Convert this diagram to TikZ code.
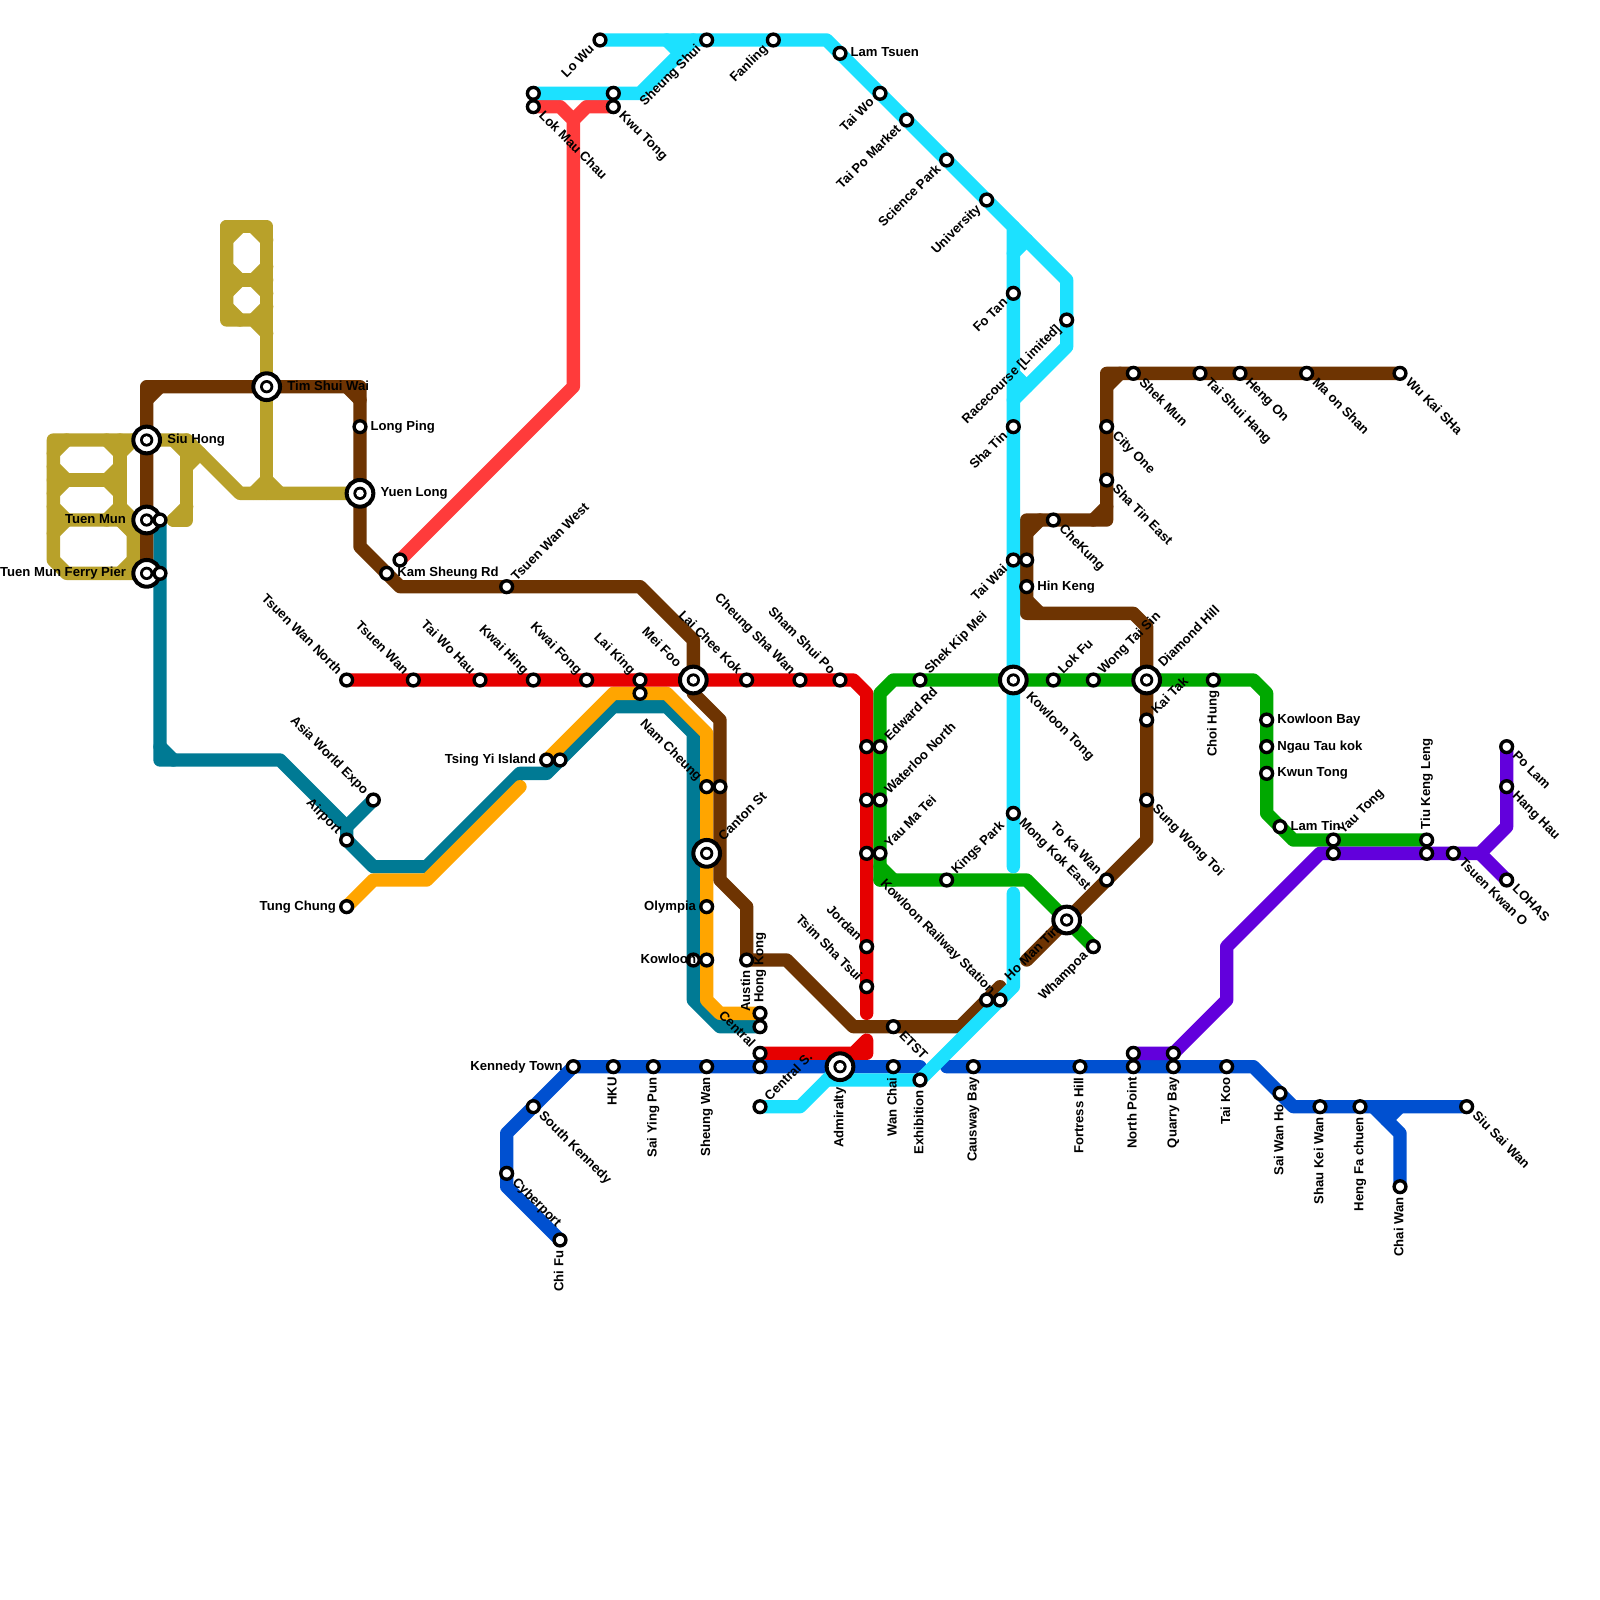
\documentclass[tikz,border=0pt]{standalone}
\usepackage{fontspec}
\setmainfont{Liberation Sans}
\pgfdeclarelayer{lines}
\pgfsetlayers{lines,main}
\definecolor{cbrown}{HTML}{6E3402}
\definecolor{cgold}{HTML}{B8A12A}
\definecolor{cteal}{HTML}{007A94}
\definecolor{corange}{HTML}{FFA500}
\definecolor{cred}{HTML}{E60000}
\definecolor{clred}{HTML}{FF3B3B}
\definecolor{cgreen}{HTML}{00A800}
\definecolor{ccyan}{HTML}{1CE1FF}
\definecolor{cblue}{HTML}{0050D0}
\definecolor{cpurple}{HTML}{6200DC}
\tikzset{
  ln/.style={line width=0.5cm,line cap=round,line join=round},
  stn/.style={circle,draw=black,fill=white,line width=3.6pt,minimum size=12.6pt,inner sep=0pt,outer sep=0pt},
  hubn/.style={circle,draw=black,fill=white,line width=4.3pt,minimum size=28.5pt,inner sep=0pt,outer sep=0pt,
    path picture={\fill[black] (path picture bounding box.center) circle (7.1pt);
                  \fill[white] (path picture bounding box.center) circle (4.1pt);}},
  lbl/.style={inner sep=0pt,outer sep=0pt,text height=0.72em,text depth=0pt,font=\fontsize{14}{15}\selectfont\bfseries},
  lE/.style={anchor=west,xshift=#1*0.5cm},
  lW/.style={anchor=east,xshift=-#1*0.5cm},
  lNE/.style={anchor=west,xshift=#1*0.3536cm,yshift=#1*0.3536cm,rotate=45},
  lSW/.style={anchor=east,xshift=-#1*0.3536cm,yshift=-#1*0.3536cm,rotate=45},
  lSE/.style={anchor=west,xshift=#1*0.3536cm,yshift=-#1*0.3536cm,rotate=-45},
  lNW/.style={anchor=east,xshift=-#1*0.3536cm,yshift=#1*0.3536cm,rotate=-45},
  lN/.style={anchor=west,yshift=#1*0.5cm,rotate=90},
  lS/.style={anchor=east,yshift=-#1*0.5cm,rotate=90},
}
\newcommand\st[3]{\node[stn] (#1) at (#2,#3) {};}
\newcommand\hb[3]{\node[hubn] (#1) at (#2,#3) {};}
\newcommand\lab[4][0.8]{\node[lbl,#3=#1] (#2-l) at (#2) {#4};}
\begin{document}
\begin{tikzpicture}[x=0.5cm,y=-0.5cm]
\useasboundingbox (0,0) rectangle (120,120);
% interchanges
\hb{siuh}{11}{33}\hb{tmun}{11}{39}\hb{pier}{11}{43}\hb{tsw}{20}{29}\hb{yuen}{27}{37}
\hb{meifoo}{52}{51}\hb{canton}{53}{64}\hb{ktong}{76}{51}\hb{diamond}{86}{51}\hb{hubtk}{80}{69}\hb{admir}{63}{80}
% stations
\st{tmun2}{12}{39}\st{pier2}{12}{43}\st{lping}{27}{32}\st{kam}{29}{43}\st{kam2}{30}{42}\st{twwest}{38}{44}
\st{twn}{26}{51}\st{tw}{31}{51}\st{twh}{36}{51}\st{kwaih}{40}{51}\st{kwaif}{44}{51}\st{laik}{48}{51}\st{laik2}{48}{52}
\st{laic}{56}{51}\st{csw}{60}{51}\st{ssp}{63}{51}
\st{expo}{28}{60}\st{airport}{26}{63}\st{tung}{26}{68}\st{tsingyi}{41}{57}\st{tsingyi2}{42}{57}
\st{nam}{53}{59}\st{nam2}{54}{59}\st{olympia}{53}{68}\st{kowloon}{52}{72}\st{kowloon2}{53}{72}\st{austin}{56}{72}
\st{hk}{57}{76}\st{hk2}{57}{77}\st{central}{57}{79}\st{central2}{57}{80}\st{centrals}{57}{83}
\st{edw1}{65}{56}\st{edw}{66}{56}\st{wat1}{65}{60}\st{wat}{66}{60}\st{ymt1}{65}{64}\st{ymt}{66}{64}
\st{jordan}{65}{71}\st{tst}{65}{74}\st{etst}{67}{77}\st{kings}{71}{66}\st{skm}{69}{51}
\st{krail}{74}{75}\st{hmt}{75}{75}\st{mke}{76}{61}\st{whampoa}{82}{71}\st{tokwa}{83}{66}\st{sungw}{86}{60}\st{kaitak}{86}{54}
\st{lokfu}{79}{51}\st{wts}{82}{51}\st{choi}{91}{51}
\st{kbay}{95}{54}\st{ntk}{95}{56}\st{kwun}{95}{58}\st{lamtin}{96}{62}\st{yaut}{100}{63}\st{yaut2}{100}{64}\st{tkl}{107}{63}\st{tkl2}{107}{64}
\st{tko}{109}{64}\st{polam}{113}{56}\st{hanghau}{113}{59}\st{lohas}{113}{66}
\st{lowu}{45}{3}\st{shs}{53}{3}\st{fanling}{58}{3}\st{lamts}{63}{4}\st{taiwo}{66}{7}\st{tpm}{68}{9}\st{sci}{71}{12}\st{univ}{74}{15}
\st{lmc}{40}{8}\st{lmc2}{40}{7}\st{kwu}{46}{8}\st{kwu2}{46}{7}
\st{fotan}{76}{22}\st{race}{80}{24}\st{shatin}{76}{32}\st{taiwai}{76}{42}\st{taiwai2}{77}{42}\st{hin}{77}{44}
\st{che}{79}{39}\st{ste}{83}{36}\st{city}{83}{32}\st{shek}{85}{28}\st{tsh}{90}{28}\st{heng}{93}{28}\st{maon}{98}{28}\st{wks}{105}{28}
\st{kt}{43}{80}\st{hku}{46}{80}\st{syp}{49}{80}\st{shw}{53}{80}\st{wanc}{67}{80}\st{exh}{69}{81}\st{cwb}{73}{80}\st{fort}{81}{80}
\st{np}{85}{80}\st{np2}{85}{79}\st{qb}{88}{80}\st{qb2}{88}{79}\st{taikoo}{92}{80}\st{swh}{96}{82}\st{skw}{99}{83}\st{hfc}{102}{83}\st{chai}{105}{89}\st{ssw}{110}{83}
\st{sken}{40}{83}\st{cyber}{38}{88}\st{chifu}{42}{93}
% labels
\lab[1.55]{siuh}{lE}{Siu Hong}\lab[1.55]{tmun}{lW}{Tuen Mun}\lab[1.55]{pier}{lW}{Tuen Mun Ferry Pier}\lab[1.55]{tsw}{lE}{Tim Shui Wai}
\lab[1.55]{yuen}{lE}{Yuen Long}\lab[1.55]{meifoo}{lNW}{Mei Foo}\lab[1.55]{canton}{lNE}{Canton St}\lab[1.55]{ktong}{lSE}{Kowloon Tong}
\lab[1.55]{diamond}{lNE}{Diamond Hill}\lab[1.55]{admir}{lS}{Admiralty}
\lab{lping}{lE}{Long Ping}\lab{kam}{lE}{Kam Sheung Rd}\lab{twwest}{lNE}{Tsuen Wan West}
\lab{twn}{lNW}{Tsuen Wan North}\lab{tw}{lNW}{Tsuen Wan}\lab{twh}{lNW}{Tai Wo Hau}\lab{kwaih}{lNW}{Kwai Hing}\lab{kwaif}{lNW}{Kwai Fong}\lab{laik}{lNW}{Lai King}
\lab{laic}{lNW}{Lai Chee Kok}\lab{csw}{lNW}{Cheung Sha Wan}\lab{ssp}{lNW}{Sham Shui Po}
\lab{expo}{lNW}{Asia World Expo}\lab{airport}{lNW}{Airport}\lab{tung}{lW}{Tung Chung}\lab{tsingyi}{lW}{Tsing Yi Island}
\lab{nam}{lNW}{Nam Cheung}\lab{olympia}{lW}{Olympia}\lab{kowloon2}{lW}{Kowloon}\lab{austin}{lS}{Austin}
\lab{hk}{lN}{Hong Kong}\lab{central}{lNW}{Central}\lab{centrals}{lNE}{Central S.}
\lab{edw}{lNE}{Edward Rd}\lab{wat}{lNE}{Waterloo North}\lab{ymt}{lNE}{Yau Ma Tei}
\lab{jordan}{lNW}{Jordan}\lab{tst}{lNW}{Tsim Sha Tsui}\lab{etst}{lSE}{ETST}\lab{kings}{lNE}{Kings Park}\lab{skm}{lNE}{Shek Kip Mei}
\lab{hmt}{lNW}{Kowloon Railway Station}
\node[lbl,yshift=0.5cm,lNE=0.8] (krail-l) at (hmt) {Ho Man Tin};
\lab{mke}{lSE}{Mong Kok East}\lab{whampoa}{lSW}{Whampoa}\lab{tokwa}{lNW}{To Ka Wan}
\lab{sungw}{lSE}{Sung Wong Toi}\lab{kaitak}{lNE}{Kai Tak}\lab{lokfu}{lNE}{Lok Fu}\lab{wts}{lNE}{Wong Tai Sin}\lab{choi}{lS}{Choi Hung}
\lab{kbay}{lE}{Kowloon Bay}\lab{ntk}{lE}{Ngau Tau kok}\lab{kwun}{lE}{Kwun Tong}\lab{lamtin}{lE}{Lam Tin}\lab{yaut}{lNE}{Yau Tong}\lab{tkl}{lN}{Tiu Keng Leng}
\lab{tko}{lSE}{Tsuen Kwan O}\lab{polam}{lSE}{Po Lam}\lab{hanghau}{lSE}{Hang Hau}\lab{lohas}{lSE}{LOHAS}
\lab{lowu}{lSW}{Lo Wu}\lab{shs}{lSW}{Sheung Shui}\lab{fanling}{lSW}{Fanling}\lab{lamts}{lE}{Lam Tsuen}\lab{taiwo}{lSW}{Tai Wo}\lab{tpm}{lSW}{Tai Po Market}\lab{sci}{lSW}{Science Park}\lab{univ}{lSW}{University}
\lab{lmc}{lSE}{Lok Mau Chau}\lab{kwu}{lSE}{Kwu Tong}
\lab{fotan}{lSW}{Fo Tan}\lab{race}{lSW}{Racecourse [Limited]}\lab{shatin}{lSW}{Sha Tin}\lab{taiwai}{lSW}{Tai Wai}\lab{hin}{lE}{Hin Keng}
\lab{che}{lSE}{CheKung}\lab{ste}{lSE}{Sha Tin East}\lab{city}{lSE}{City One}\lab{shek}{lSE}{Shek Mun}\lab{tsh}{lSE}{Tai Shui Hang}\lab{heng}{lSE}{Heng On}\lab{maon}{lSE}{Ma on Shan}\lab{wks}{lSE}{Wu Kai SHa}
\lab{kt}{lW}{Kennedy Town}\lab{hku}{lS}{HKU}\lab{syp}{lS}{Sai Ying Pun}\lab{shw}{lS}{Sheung Wan}\lab{wanc}{lS}{Wan Chai}\lab{exh}{lS}{Exhibition}\lab{cwb}{lS}{Causway Bay}\lab{fort}{lS}{Fortress Hill}
\lab{np}{lS}{North Point}\lab{qb}{lS}{Quarry Bay}\lab{taikoo}{lS}{Tai Koo}\lab{swh}{lS}{Sai Wan Ho}\lab{skw}{lS}{Shau Kei Wan}\lab{hfc}{lS}{Heng Fa chuen}\lab{chai}{lS}{Chai Wan}\lab{ssw}{lSE}{Siu Sai Wan}
\lab{sken}{lSE}{South Kennedy}\lab{cyber}{lSE}{Cyberport}\lab{chifu}{lS}{Chi Fu}
% lines
\begin{pgfonlayer}{lines}
\fill[white] (0,0) rectangle (120,120);
% gold
\draw[ln,cgold] (17,17)--(20,17)--(tsw.center)--(20,37);
\draw[ln,cgold] (17,17)--(17,24)--(19,24)--(20,25);
\draw[ln,cgold] (17,21)--(20,21);
\draw[ln,cgold] (yuen.center)--(18,37)--(14,33)--(4,33)--(4,42)--(5,43)--(10,43)--(10,39)--(4,39);
\draw[ln,cgold] (4,36)--(9,36);\draw[ln,cgold] (9,33)--(9,39);
\draw[ln,cgold] (14,33)--(14,39)--(13,39);
\foreach \a/\b/\c/\d in {17/18/18/17,19/17/20/18,17/20/18/21,19/21/20/20,17/22/18/21,19/21/20/22,17/23/18/24,19/24/20/23,
  19/37/20/36,20/36/21/37,4/34/5/33,8/33/9/34,4/35/5/36,8/36/9/35,4/37/5/36,8/36/9/37,4/38/5/39,8/39/9/38,
  4/40/5/39,9/39/10/40,9/43/10/42,9/34/10/33,9/38/10/39,13/33/14/34,13/39/14/38,14/35/15/34}
  \draw[ln,cgold] (\a,\b)--(\c,\d);
% teal
\draw[ln,cteal] (tmun2.center)--(pier2.center)--(12,57)--(21,57)--(26,62)--(airport.center)--(28,65)--(32,65)--(39,58)--(41,58)--(tsingyi2.center)--(46,53)--(50,53)--(52,55)--(kowloon.center)--(52,75)--(54,77)--(hk2.center);
\draw[ln,cteal] (12,56)--(13,57);
\draw[ln,cteal] (26,62)--(expo.center);
% orange
\draw[ln,corange] (tung.center)--(28,66)--(32,66)--(39,59);
\draw[ln,corange] (tsingyi.center)--(46,52)--(laik2.center)--(50,52)--(53,55)--(nam.center)--(canton.center)--(olympia.center)--(kowloon2.center)--(53,75)--(54,76)--(hk.center);
% brown
\draw[ln,cbrown] (pier.center)--(tmun.center)--(siuh.center)--(11,29)--(tsw.center)--(27,29)--(lping.center)--(yuen.center)--(27,41)--(30,44)--(twwest.center)--(48,44)--(52,48)--(meifoo.center)--(52,52)--(54,54)--(nam2.center)--(54,66)--(56,68)--(austin.center)--(59,72)--(64,77)--(etst.center)--(72,77)--(krail.center)--(75,74);
\draw[ln,cbrown] (77,72)--(hubtk.center)--(tokwa.center)--(86,63)--(sungw.center)--(kaitak.center)--(diamond.center)--(86,47)--(85,46)--(77,46)--(hin.center)--(taiwai2.center)--(77,39)--(che.center)--(83,39)--(ste.center)--(city.center)--(83,28)--(shek.center)--(tsh.center)--(heng.center)--(maon.center)--(wks.center);
\foreach \a/\b/\c/\d in {11/30/12/29,26/29/27/30,77/40/78/39,77/45/78/46,82/39/83/38,83/29/84/28}
  \draw[ln,cbrown] (\a,\b)--(\c,\d);
% red
\draw[ln,cred] (twn.center)--(tw.center)--(twh.center)--(kwaih.center)--(kwaif.center)--(laik.center)--(meifoo.center)--(laic.center)--(csw.center)--(ssp.center)--(64,51)--(65,52)--(edw1.center)--(wat1.center)--(ymt1.center)--(jordan.center)--(tst.center)--(65,76);
\draw[ln,cred] (central.center)--(64,79)--(65,78)--(65,79)--(64,79);
% light red
\draw[ln,clred] (lmc.center)--(42,8)--(43,9)--(43,29)--(kam2.center);
\draw[ln,clred] (kwu.center)--(44,8)--(43,9);
% green
\draw[ln,cgreen] (66,66)--(ymt.center)--(wat.center)--(edw.center)--(66,52)--(67,51)--(skm.center)--(ktong.center)--(lokfu.center)--(wts.center)--(diamond.center)--(choi.center)--(94,51)--(95,52)--(kbay.center)--(ntk.center)--(kwun.center)--(95,61)--(lamtin.center)--(97,63)--(yaut.center)--(tkl.center);
\draw[ln,cgreen] (66,66)--(kings.center)--(77,66)--(hubtk.center)--(whampoa.center);
\draw[ln,cgreen] (66,65)--(67,66);
% blue
\draw[ln,cblue] (chifu.center)--(38,89)--(cyber.center)--(38,85)--(sken.center)--(kt.center)--(hku.center)--(syp.center)--(shw.center)--(central2.center)--(admir.center)--(wanc.center)--(69,80);
\draw[ln,cblue] (71,80)--(cwb.center)--(fort.center)--(np.center)--(qb.center)--(taikoo.center)--(94,80)--(swh.center)--(97,83)--(skw.center)--(hfc.center)--(ssw.center);
\draw[ln,cblue] (103,83)--(105,85)--(chai.center);
\draw[ln,cblue] (104,84)--(105,83);
% cyan
\draw[ln,ccyan] (lmc2.center)--(kwu2.center)--(48,7)--(52,3);
\draw[ln,ccyan] (lowu.center)--(shs.center)--(fanling.center)--(62,3)--(lamts.center)--(taiwo.center)--(tpm.center)--(sci.center)--(univ.center)--(76,17)--(fotan.center)--(shatin.center)--(taiwai.center)--(ktong.center)--(mke.center)--(76,65);
\draw[ln,ccyan] (76,17)--(80,21)--(race.center)--(80,26)--(76,30);
\foreach \a/\b/\c/\d in {50/3/51/4,76/19/77/18,76/28/77/29}
  \draw[ln,ccyan] (\a,\b)--(\c,\d);
\draw[ln,ccyan] (76,67)--(76,74)--(exh.center)--(62,81);
\draw[ln,ccyan] (admir.center)--(60,83)--(centrals.center);
% purple
\draw[ln,cpurple] (np2.center)--(qb2.center)--(92,75)--(92,71)--(99,64)--(yaut2.center)--(tkl2.center)--(tko.center)--(111,64)--(113,62)--(hanghau.center)--(polam.center);
\draw[ln,cpurple] (111,64)--(lohas.center);
\end{pgfonlayer}
\end{tikzpicture}
\end{document}
